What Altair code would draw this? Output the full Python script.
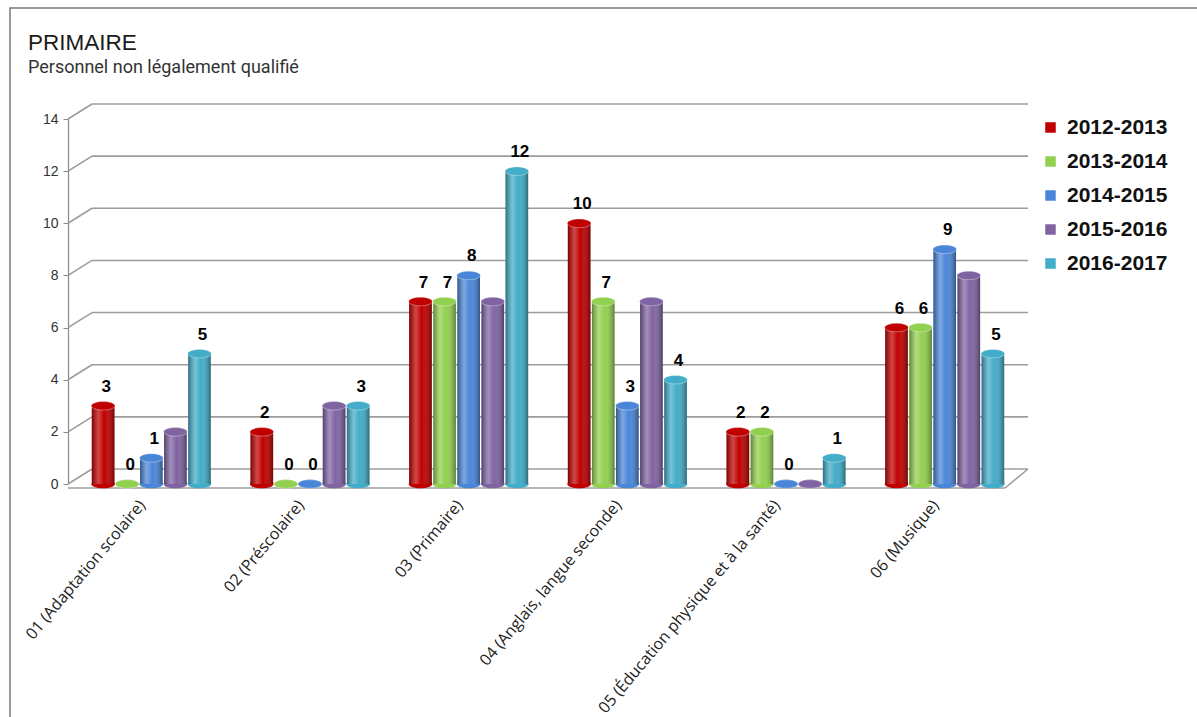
import altair as alt
import pandas as pd

categories = [
    "01 (Adaptation scolaire)",
    "02 (Préscolaire)",
    "03 (Primaire)",
    "04 (Anglais, langue seconde)",
    "05 (Éducation physique et à la santé)",
    "06 (Musique)",
]
years = ["2012-2013", "2013-2014", "2014-2015", "2015-2016", "2016-2017"]
v_2012_2013 = [3, 2, 7, 10, 2, 6]
v_2013_2014 = [0, 0, 7, 7, 2, 6]
v_2014_2015 = [1, 0, 8, 3, 0, 9]
v_2015_2016 = [2, 3, 7, 7, 0, 8]
v_2016_2017 = [5, 3, 12, 4, 1, 5]
unlabelled_series = ["2015-2016"]
y_ticks = [0, 2, 4, 6, 8, 10, 12, 14]
colors = ["#c00000", "#92d050", "#4a86d8", "#8064a2", "#43acc8"]
title_text = "PRIMAIRE"
subtitle_text = "Personnel non légalement qualifié"

series = [v_2012_2013, v_2013_2014, v_2014_2015, v_2015_2016, v_2016_2017]
rows = []
for yr, vals in zip(years, series):
    for c, v in zip(categories, vals):
        rows.append({"cat": c, "annee": yr, "val": v, "zero": 0})
df = pd.DataFrame(rows)
grid_df = pd.DataFrame({"v": y_ticks})
floor_df = pd.DataFrame({"v": [0]})
title_df = pd.DataFrame({"t": [title_text]})
subtitle_df = pd.DataFrame({"t": [subtitle_text]})

W, H = 960, 365
DEPTH_X, DEPTH_Y = 24, -15
FLOOR_END = 937

yscale = alt.Scale(domain=[0, 14])
yaxis = alt.Axis(values=y_ticks, grid=False, title=None, domainColor="#8a8a8a",
                 tickColor="#8a8a8a", tickSize=5, labelFontSize=14, labelColor="#333333",
                 labelPadding=5, labelFont="Liberation Sans", domainWidth=1.2)
xscale = alt.Scale(paddingInner=0.25, paddingOuter=0.15)
xaxis = alt.Axis(title=None, labelAngle=-50, labelAlign="right", labelBaseline="middle",
                 ticks=False, domain=False, labelFontSize=16, labelFont="Open Sans",
                 labelColor="#222222", labelPadding=18, labelOffset=-9, labelLimit=600)
cscale = alt.Scale(domain=years, range=colors)
legend = alt.Legend(title=None, orient="none", legendX=972, legendY=-2,
                    symbolType="square", symbolSize=110, symbolStrokeWidth=0,
                    labelFontSize=21, labelFontWeight="bold",
                    labelFont="Liberation Sans", labelColor="#111111",
                    rowPadding=12, labelOffset=6)
C = alt.Color("annee:N", scale=cscale, sort=years, legend=legend)

X = alt.X("cat:N", sort=categories, scale=xscale, axis=xaxis)
XO = alt.XOffset("annee:N", sort=years, scale=alt.Scale(paddingInner=0.06))
Y = alt.Y("val:Q", scale=yscale, axis=yaxis)

frame = alt.Chart(floor_df).mark_rect(fillOpacity=0, stroke="#7a7a7a", strokeWidth=1.5).encode(
    x=alt.value(-58), x2=alt.value(1160), y=alt.value(-111), y2=alt.value(700)
)
title = alt.Chart(title_df).mark_text(align="left", baseline="alphabetic", font="Liberation Sans",
                                      fontSize=22.5, color="#1a1a1a").encode(
    x=alt.value(-40), y=alt.value(-69), text="t:N"
)
subtitle = alt.Chart(subtitle_df).mark_text(align="left", baseline="alphabetic",
                                            font="Roboto",
                                            fontSize=18, color="#333333").encode(
    x=alt.value(-40), y=alt.value(-46), text="t:N"
)

wall = alt.Chart(grid_df).mark_rule(color="#9c9c9c", strokeWidth=1.6, yOffset=DEPTH_Y, y2Offset=DEPTH_Y).encode(
    y=alt.Y("v:Q", scale=yscale, axis=yaxis), y2="v:Q",
    x=alt.value(DEPTH_X), x2=alt.value(W)
)
diag = alt.Chart(grid_df).mark_rule(color="#9c9c9c", strokeWidth=1.6, y2Offset=DEPTH_Y).encode(
    y=alt.Y("v:Q", scale=yscale, axis=yaxis), y2="v:Q",
    x=alt.value(0), x2=alt.value(DEPTH_X)
)
floor_front = alt.Chart(floor_df).mark_rule(color="#9c9c9c", strokeWidth=1.6, yOffset=4, y2Offset=4).encode(
    y=alt.Y("v:Q", scale=yscale, axis=yaxis), y2="v:Q",
    x=alt.value(0), x2=alt.value(FLOOR_END)
)
floor_side = alt.Chart(floor_df).mark_rule(color="#9c9c9c", strokeWidth=1.6, yOffset=4, y2Offset=DEPTH_Y).encode(
    y=alt.Y("v:Q", scale=yscale, axis=yaxis), y2="v:Q",
    x=alt.value(FLOOR_END), x2=alt.value(W)
)

ellipse = "M -1 0 A 1 0.36 0 1 1 1 0 A 1 0.36 0 1 1 -1 0 Z"
base = alt.Chart(df)

bottom = base.mark_point(shape=ellipse, size=560, filled=True, opacity=1).encode(
    x=X, xOffset=XO, y=alt.Y("zero:Q", scale=yscale, axis=yaxis), color=C
)
bars = base.mark_bar().encode(x=X, xOffset=XO, y=Y, color=C)
shade = base.mark_bar(fill={
    "gradient": "linear", "x1": 0, "x2": 1, "y1": 0, "y2": 0,
    "stops": [
        {"offset": 0, "color": "rgba(0,0,0,0.35)"},
        {"offset": 0.3, "color": "rgba(255,255,255,0.28)"},
        {"offset": 0.55, "color": "rgba(255,255,255,0.0)"},
        {"offset": 1, "color": "rgba(0,0,0,0.38)"},
    ]}).encode(x=X, xOffset=XO, y=Y)
top = base.mark_point(shape=ellipse, size=560, filled=True, opacity=1,
                      stroke="rgba(255,255,255,0.35)", strokeWidth=1).encode(
    x=X, xOffset=XO, y=Y, color=C
)
labels = base.transform_filter(
    alt.FieldOneOfPredicate(field="annee", oneOf=unlabelled_series).__invert__()
).mark_text(fontSize=17, fontWeight="bold", font="Liberation Sans", color="#000000",
            baseline="bottom", dy=-10, dx=3).encode(
    x=X, xOffset=XO, y=Y, text="val:Q"
)

chart = alt.layer(frame, title, subtitle, wall, diag, floor_front, floor_side,
                  bottom, bars, shade, top, labels).properties(
    width=W, height=H,
    autosize=alt.AutoSizeParams(type="none"),
    padding={"left": 68, "top": 119, "right": 1197 - 68 - W, "bottom": 717 - 119 - H},
).configure_view(stroke=None)

chart.save("out.html", embed_options={"renderer": "svg", "actions": False})
